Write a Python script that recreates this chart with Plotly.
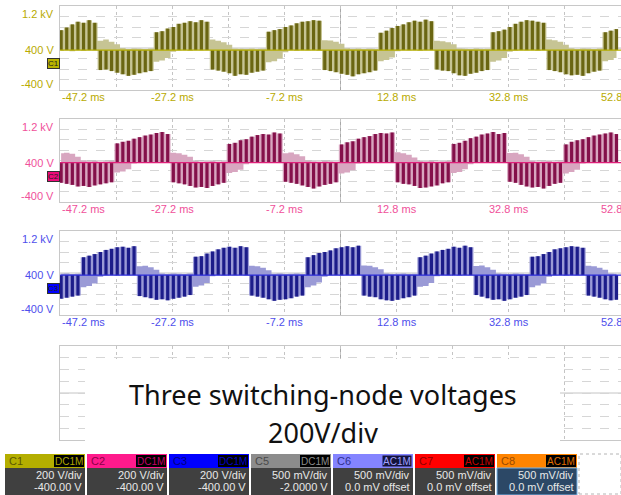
import plotly.graph_objects as go

# ---------------- data ----------------
# time base: one envelope sample per millisecond, starting at -47 ms
T_START = -47
T_STEP = 1
X_RANGE = [-47.2, 52.8]
TIME_TICKS = [-47.2, -27.2, -7.2, 12.8, 32.8, 52.8]
TIME_LABELS = ["-47.2 ms", "-27.2 ms", "-7.2 ms", "12.8 ms", "32.8 ms", "52.8 ms"]
V_TICKS = [1200, 400, -400]
V_LABELS = ["1.2 kV", "400 V", "-400 V"]
BASELINE_V = 360
TRIGGER_T = 0

# pulse-top / pulse-bottom envelopes of each switching node (V)
c1_hi = [740, 790, 850, 900, 880, 930, 880,
         540, 560, 520, 470, 400, 380, 390, 385, 380, 390,
         700, 720, 770, 800, 860, 880, 910, 890, 930, 900,
         560, 540, 510, 460, 390, 385, 380, 390, 380, 385,
         710, 740, 760, 800, 830, 870, 900, 910, 930, 920,
         550, 545, 520, 480, 395, 380, 390, 380, 385, 380,
         690, 730, 780, 820, 850, 890, 920, 900, 940, 910,
         540, 530, 510, 470, 390, 385, 380, 390, 380, 385,
         700, 720, 750, 800, 860, 900, 930, 920, 900, 880,
         560, 550, 520, 460, 395, 380, 390, 385, 380, 390,
         700, 730, 760]
c1_lo = [350, 360, 340, 360, 350, 360, 355,
         -20, -10, -40, -70, -100, -130, -110, -80, -60, -40,
         140, 160, 210, 330, 355, 360, 350, 360, 355, 360,
         -10, -30, -50, -80, -130, -100, -110, -70, -50, -30,
         130, 150, 200, 320, 360, 350, 360, 355, 360, 350,
         -20, -40, -60, -90, -110, -140, -100, -80, -60, -30,
         150, 170, 220, 340, 360, 355, 360, 350, 360, 360,
         -10, -30, -40, -80, -120, -130, -90, -70, -40, -20,
         140, 160, 210, 330, 350, 360, 355, 360, 350, 360,
         -20, -40, -60, -100, -120, -110, -130, -80, -50, -30,
         150, 170, 210]

c2_hi = [540, 550, 530, 470, 400, 385, 390, 380, 385, 390,
         730, 760, 780, 820, 850, 880, 900, 930, 950, 910,
         550, 540, 510, 470, 390, 380, 385, 390, 380, 385,
         720, 740, 790, 810, 860, 890, 910, 900, 940, 920,
         540, 555, 520, 480, 395, 385, 380, 390, 385, 380,
         710, 750, 770, 820, 850, 870, 910, 930, 920, 940,
         560, 540, 510, 460, 390, 385, 390, 380, 385, 390,
         720, 740, 780, 830, 860, 900, 920, 950, 910, 930,
         545, 550, 520, 470, 395, 380, 385, 390, 380, 385,
         710, 760, 790, 810, 850, 880, 900, 920, 940, 910]
c2_lo = [-30, -50, -70, -100, -90, -110, -80, -60, -40, -20,
         170, 190, 230, 340, 360, 350, 360, 355, 360, 350,
         -20, -40, -60, -90, -120, -110, -130, -90, -60, -30,
         160, 180, 220, 330, 360, 355, 360, 350, 360, 355,
         -10, -30, -50, -80, -110, -140, -100, -70, -50, -20,
         150, 170, 210, 340, 355, 360, 350, 360, 355, 360,
         -20, -50, -60, -90, -130, -120, -100, -80, -40, -20,
         160, 180, 230, 330, 360, 350, 360, 355, 360, 350,
         -10, -30, -70, -100, -120, -110, -140, -90, -50, -30,
         150, 180, 220, 340, 360, 355, 360, 350, 360, 355]

c3_hi = [385, 390, 380, 385,
         700, 730, 760, 800, 840, 860, 890, 900, 880, 910,
         530, 540, 510, 460, 390, 380, 390, 385, 380, 390,
         710, 720, 770, 810, 850, 880, 900, 880, 910, 890,
         540, 530, 500, 450, 385, 390, 380, 385, 390, 380,
         700, 740, 780, 800, 830, 870, 890, 910, 890, 920,
         545, 540, 510, 470, 390, 380, 385, 390, 380, 385,
         700, 730, 770, 810, 840, 860, 900, 880, 920, 890,
         535, 545, 510, 460, 390, 385, 380, 390, 385, 380,
         710, 720, 760, 800, 850, 870, 890, 910, 900, 880,
         540, 530, 500, 460, 390, 385]
c3_lo = [-90, -70, -50, -30,
         130, 150, 200, 330, 355, 360, 350, 360, 355, 360,
         -40, -60, -80, -110, -100, -120, -90, -70, -50, -20,
         140, 160, 210, 340, 360, 350, 360, 355, 360, 350,
         -30, -50, -70, -100, -130, -110, -100, -80, -50, -30,
         130, 160, 220, 330, 355, 360, 350, 360, 355, 360,
         -30, -50, -60, -100, -120, -130, -110, -80, -60, -30,
         140, 150, 210, 340, 360, 355, 360, 350, 360, 355,
         -20, -50, -80, -110, -100, -130, -100, -70, -50, -20,
         130, 160, 200, 330, 355, 360, 350, 360, 355, 360,
         -30, -50, -70, -100, -120, -110]

CHANNELS = [
    dict(name="C1", hi=c1_hi, lo=c1_lo, dark="#6a6612", light="#c6c494",
         line="#b4ae00", label="#b8aa00", badge="#b8b400"),
    dict(name="C2", hi=c2_hi, lo=c2_lo, dark="#84104a", light="#d8a6c0",
         line="#e0207a", label="#f0509a", badge="#ee0a7a"),
    dict(name="C3", hi=c3_hi, lo=c3_lo, dark="#1c1c8a", light="#9a9ad6",
         line="#2a2ad8", label="#4e4eec", badge="#0000ff"),
]

# channel descriptor bar
desc_names = ["C1", "C2", "C3", "C5", "C6", "C7", "C8"]
desc_coupling = ["DC1M", "DC1M", "DC1M", "DC1M", "AC1M", "AC1M", "AC1M"]
desc_scale = ["200 V/div", "200 V/div", "200 V/div", "500 mV/div",
              "500 mV/div", "500 mV/div", "500 mV/div"]
desc_offset = ["-400.00 V", "-400.00 V", "-400.00 V", "-2.0000 V",
               "0.0 mV offset", "0.0 mV offset", "0.0 mV offset"]
desc_head = ["#b4ae00", "#ff1a8c", "#0000ff", "#8c8c8c", "#8484ff", "#ff0000", "#ff8400"]
desc_name_col = ["#5c5800", "#8c0048", "#000080", "#4a4a4a", "#30308c", "#8c0000", "#9a4a00"]
desc_cpl_col = ["#b0a800", "#c4006a", "#0000c8", "#8c8c8c", "#a0a0ff", "#c80000", "#e07000"]
desc_cpl_bg = ["#000000", "#000000", "#000000", "#000000", "#14143c", "#000000", "#000000"]
desc_body = ["#404040", "#404040", "#404040", "#404040", "#404040", "#404040", "#2c4866"]

title_lines = ["Three switching-node voltages", "200V/div"]

# ---------------- layout helpers ----------------
W, H = 621, 495


def px(x):
    return x / W


def py(y):
    return 1 - y / H


PANELS = [(6, 90), (119, 202), (231, 315), (346, 440)]
X_DOMAIN = [px(60), 1.0]

t = [T_START + i * T_STEP for i in range(len(c1_hi))]

fig = go.Figure()
layout = dict(width=W, height=H, margin=dict(l=0, r=0, t=0, b=0),
              paper_bgcolor="white", plot_bgcolor="white", showlegend=False)
annotations = []
shapes = []

for k, (top, bot) in enumerate(PANELS):
    sfx = "" if k == 0 else str(k + 1)
    xa, ya = "x" + sfx, "y" + sfx
    layout["xaxis" + sfx] = dict(
        domain=X_DOMAIN, range=X_RANGE, anchor=ya, showticklabels=False,
        showgrid=True, gridcolor="#c4c4c4", griddash="dot", gridwidth=1,
        tick0=X_RANGE[0], dtick=10, ticks="", zeroline=False,
        showline=True, linecolor="#c8c8c8", mirror=True, fixedrange=True)
    layout["yaxis" + sfx] = dict(
        domain=[py(bot), py(top)], range=[-400, 1200], anchor=xa,
        showticklabels=False, showgrid=True, gridcolor="#d6d6d6",
        griddash="dash", tick0=-400, dtick=200, ticks="", zeroline=False,
        showline=True, linecolor="#c8c8c8", mirror=True, fixedrange=True)
    # centre graticule lines
    shapes.append(dict(type="line", xref=xa, yref=ya + " domain", x0=2.8, x1=2.8,
                       y0=0, y1=1, line=dict(color="#a8a8a8", width=1), layer="below"))
    shapes.append(dict(type="line", xref=xa + " domain", yref=ya, x0=0, x1=1,
                       y0=400, y1=400, line=dict(color="#c4c4c4", width=1), layer="below"))

    if k >= len(CHANNELS):
        continue
    ch = CHANNELS[k]
    # light envelope band
    fig.add_trace(go.Scatter(x=t, y=ch["hi"], xaxis=xa, yaxis=ya, mode="lines",
                             line=dict(width=0, shape="hvh"), hoverinfo="skip"))
    fig.add_trace(go.Scatter(x=t, y=ch["lo"], xaxis=xa, yaxis=ya, mode="lines",
                             line=dict(width=0, shape="hvh"), fill="tonexty",
                             fillcolor=ch["light"], hoverinfo="skip"))
    # dark switching pulses from the baseline to the dominant extreme
    ext = [h if (h - BASELINE_V) >= (BASELINE_V - l) else l
           for h, l in zip(ch["hi"], ch["lo"])]
    seg_x, seg_y = [], []
    for ti, e in zip(t, ext):
        seg_x += [ti, ti, None]
        seg_y += [BASELINE_V, e, None]
    fig.add_trace(go.Scatter(x=seg_x, y=seg_y, xaxis=xa, yaxis=ya, mode="lines",
                             line=dict(color=ch["dark"], width=3.2),
                             connectgaps=False, hoverinfo="skip"))
    # trace baseline
    fig.add_trace(go.Scatter(x=X_RANGE, y=[BASELINE_V, BASELINE_V], xaxis=xa, yaxis=ya,
                             mode="lines", line=dict(color=ch["line"], width=1.3),
                             hoverinfo="skip"))
    # trigger marker
    fig.add_trace(go.Scatter(x=[TRIGGER_T], y=[-480], xaxis=xa, yaxis=ya, mode="markers",
                             marker=dict(symbol="triangle-up", size=6, color=ch["line"]),
                             cliponaxis=False, hoverinfo="skip"))

    font = dict(family="Liberation Sans, Arial", size=11, color=ch["label"])
    shifts = [-8, -2, 6]
    for v, lab, s in zip(V_TICKS, V_LABELS, shifts):
        annotations.append(dict(xref="paper", yref=ya, x=px(56), y=v, yshift=s,
                                text=lab, showarrow=False, xanchor="right",
                                yanchor="middle", font=font))
    for i, (tv, lab) in enumerate(zip(TIME_TICKS, TIME_LABELS)):
        annotations.append(dict(xref=xa, yref=ya, x=tv, y=-400, yshift=-7,
                                text=lab, showarrow=False,
                                xanchor="left" if i == 0 else "center",
                                yanchor="middle", font=font))
    # channel ground badge
    annotations.append(dict(xref="paper", yref=ya, x=px(53), y=100, text=ch["name"],
                            showarrow=False, xanchor="center", yanchor="middle",
                            bgcolor=ch["badge"], bordercolor="#303030", borderwidth=1,
                            borderpad=0,
                            font=dict(family="Liberation Sans, Arial", size=8,
                                      color="#202020")))

# caption box over the empty fourth grid
shapes.append(dict(type="rect", xref="paper", yref="paper", x0=px(85), x1=px(560),
                   y0=py(452), y1=py(359), fillcolor="white", line=dict(width=0),
                   layer="above"))
for line, yc in zip(title_lines, [394, 432]):
    annotations.append(dict(xref="paper", yref="paper", x=px(323), y=py(yc),
                            text=line, showarrow=False, xanchor="center",
                            yanchor="middle",
                            font=dict(family="Noto Sans", size=27, color="#111111")))

# channel descriptor boxes
x0s = [5, 87, 169, 251, 333, 415, 497]
BW = 80
for i, x0 in enumerate(x0s):
    shapes.append(dict(type="rect", xref="paper", yref="paper", x0=px(x0), x1=px(x0 + BW),
                       y0=py(468), y1=py(454), fillcolor=desc_head[i],
                       line=dict(width=0), layer="above"))
    body_line = dict(width=1, color="#78b4e8") if i == 6 else dict(width=0)
    shapes.append(dict(type="rect", xref="paper", yref="paper", x0=px(x0), x1=px(x0 + BW),
                       y0=py(495), y1=py(468), fillcolor=desc_body[i],
                       line=body_line, layer="above"))
    shapes.append(dict(type="rect", xref="paper", yref="paper", x0=px(x0 + 49),
                       x1=px(x0 + 79), y0=py(467), y1=py(455), fillcolor=desc_cpl_bg[i],
                       line=dict(width=1, color="#8484ff") if i == 4 else dict(width=0),
                       layer="above"))
    f = "Liberation Sans, Arial"
    annotations.append(dict(xref="paper", yref="paper", x=px(x0 + 2), y=py(461),
                            text=desc_names[i], showarrow=False, xanchor="left",
                            yanchor="middle",
                            font=dict(family=f, size=11, color=desc_name_col[i])))
    annotations.append(dict(xref="paper", yref="paper", x=px(x0 + 64), y=py(461),
                            text=desc_coupling[i], showarrow=False, xanchor="center",
                            yanchor="middle",
                            font=dict(family=f, size=10, color=desc_cpl_col[i])))
    for txt, yc in zip([desc_scale[i], desc_offset[i]], [475, 487]):
        annotations.append(dict(xref="paper", yref="paper", x=px(x0 + 79), y=py(yc),
                                text=txt, showarrow=False, xanchor="right",
                                yanchor="middle",
                                font=dict(family=f, size=11, color="#e8e8e8")))

shapes.append(dict(type="rect", xref="paper", yref="paper", x0=px(579), x1=px(621),
                   y0=py(494), y1=py(454), fillcolor="white",
                   line=dict(width=1, color="#b4b4b4", dash="dot"), layer="above"))

layout["annotations"] = annotations
layout["shapes"] = shapes
fig.update_layout(**layout)
fig.write_html("out.html")
